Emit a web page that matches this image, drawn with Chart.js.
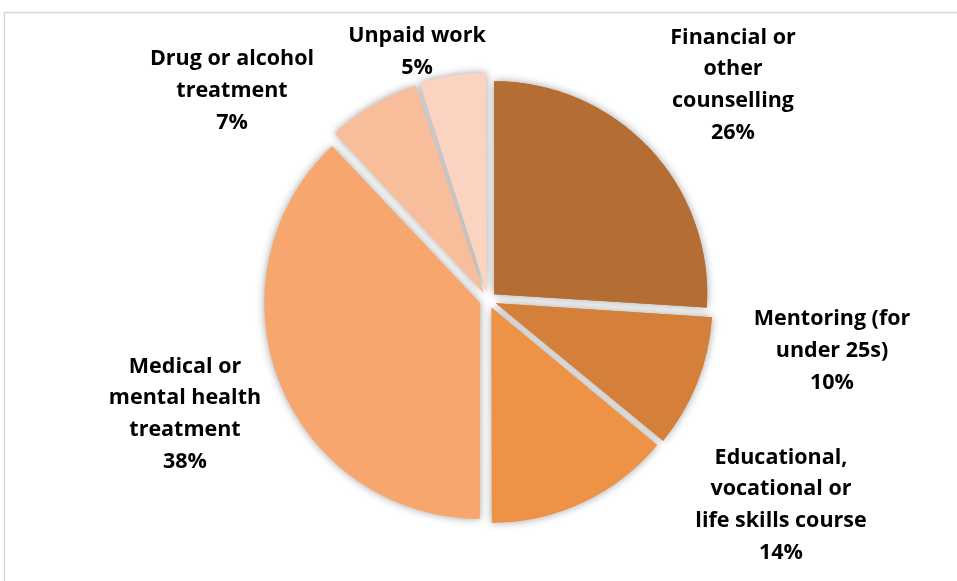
<!DOCTYPE html>
<html>
<head>
<meta charset="utf-8">
<script src="https://cdn.jsdelivr.net/npm/chart.js@4/dist/chart.umd.min.js"></script>
<style>
  html, body { margin: 0; padding: 0; background: #ffffff; }
  #wrap { position: relative; width: 957px; height: 581px; }
  canvas { display: block; }
</style>
</head>
<body>
<div id="wrap"><canvas id="pie" width="957" height="581"></canvas></div>
<script>
// Support programme categories, clockwise from twelve o'clock
const categories = [
  ['Financial or', 'other', 'counselling'],
  ['Mentoring (for', 'under 25s)'],
  ['Educational,', 'vocational or', 'life skills course'],
  ['Medical or', 'mental health', 'treatment'],
  ['Drug or alcohol', 'treatment'],
  ['Unpaid work']
];
// Share of participants (%)
const shares = [26, 10, 14, 38, 7, 5];
const sliceColors = ['#B46D33', '#D5803A', '#EE9245', '#F7A76E', '#F8BE9C', '#FAD3C1'];

// Label block centres, relative to the pie centre
const labelOffsets = [
  [245, -215],
  [344, 51],
  [293, 205],
  [-303, 114],
  [-256, -209],
  [-71, -248]
];

const FONT = 'bold 21.5px "Open Sans", sans-serif';
const LINE_H = 31.7;

// Light frame around the plot
const framePlugin = {
  id: 'frame',
  beforeDraw(chart) {
    const ctx = chart.ctx;
    ctx.save();
    ctx.strokeStyle = '#d6d6d6';
    ctx.lineWidth = 1.5;
    ctx.beginPath();
    ctx.moveTo(4.5, chart.height + 2);
    ctx.lineTo(4.5, 12.5);
    ctx.lineTo(chart.width + 2, 12.5);
    ctx.stroke();
    ctx.restore();
  }
};

// Soft drop shadow beneath every slice
const shadowPlugin = {
  id: 'sliceShadow',
  beforeDatasetsDraw(chart) {
    const ctx = chart.ctx;
    chart.getDatasetMeta(0).data.forEach(arc => {
      ctx.save();
      ctx.shadowColor = 'rgba(0,0,0,0.38)';
      ctx.shadowBlur = 8;
      arc.draw(ctx);
      ctx.restore();
    });
  }
};

// Category name plus percentage beside each slice
const labelPlugin = {
  id: 'sliceLabels',
  afterDatasetsDraw(chart) {
    const ctx = chart.ctx;
    const meta = chart.getDatasetMeta(0);
    ctx.save();
    ctx.font = FONT;
    ctx.fillStyle = '#000000';
    ctx.textAlign = 'center';
    ctx.textBaseline = 'middle';
    meta.data.forEach((arc, i) => {
      const lines = categories[i].concat([shares[i] + '%']);
      const cx = arc.x + labelOffsets[i][0];
      const cy = arc.y + labelOffsets[i][1];
      const top = cy - (lines.length - 1) * LINE_H / 2;
      lines.forEach((t, k) => ctx.fillText(t, cx, top + k * LINE_H));
    });
    ctx.restore();
  }
};

new Chart(document.getElementById('pie'), {
  type: 'pie',
  data: {
    labels: categories.map(c => c.join(' ')),
    datasets: [{
      data: shares,
      backgroundColor: sliceColors,
      borderWidth: 0,
      offset: 34,
      radius: 213
    }]
  },
  options: {
    responsive: false,
    animation: false,
    layout: { padding: { left: 19, top: 19, right: 0, bottom: 0 } },
    plugins: {
      legend: { display: false },
      tooltip: { enabled: false }
    }
  },
  plugins: [framePlugin, shadowPlugin, labelPlugin]
});
</script>
</body>
</html>
